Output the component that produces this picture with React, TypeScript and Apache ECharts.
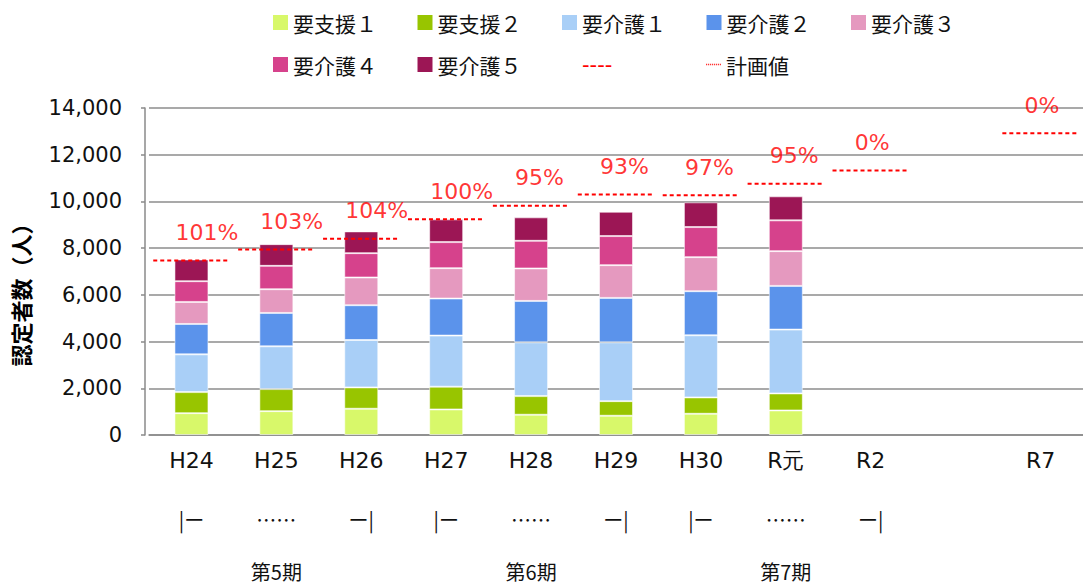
import React, { useEffect, useRef } from 'react';
import * as echarts from 'echarts';

// ---- data ----
const categories = ['H24', 'H25', 'H26', 'H27', 'H28', 'H29', 'H30', 'R元', 'R2', '', 'R7'];
const periodMarks = ['|ー', '……', 'ー|', '|ー', '……', 'ー|', '|ー', '……', 'ー|', '', ''];
const periodNames = ['', '第5期', '', '', '第6期', '', '', '第7期', '', '', ''];

const seriesNames = ['要支援１', '要支援２', '要介護１', '要介護２', '要介護３', '要介護４', '要介護５'];

const shien1 = [935, 1022, 1124, 1094, 867, 824, 909, 1051, null, null, null];
const shien2 = [901, 944, 914, 974, 798, 626, 700, 729, null, null, null];
const kaigo1 = [1617, 1831, 2029, 2188, 2303, 2518, 2660, 2733, null, null, null];
const kaigo2 = [1301, 1429, 1489, 1587, 1772, 1901, 1887, 1871, null, null, null];
const kaigo3 = [943, 1016, 1188, 1300, 1390, 1403, 1459, 1488, null, null, null];
const kaigo4 = [888, 1000, 1042, 1115, 1184, 1244, 1287, 1317, null, null, null];
const kaigo5 = [931, 930, 931, 974, 1004, 1042, 1059, 1030, null, null, null];

const planValues = [7470, 7940, 8400, 9240, 9810, 10300, 10260, 10760, 11320, null, 12920];
const ratioLabels = ['101%', '103%', '104%', '100%', '95%', '93%', '97%', '95%', '0%', '', '0%'];

const yMin = 0;
const yMax = 14000;
const yInterval = 2000;

const colors = ['#d8f86a', '#98c500', '#a9cff7', '#5b93eb', '#e599bf', '#d6428c', '#9c1655'];

const barValues = [shien1, shien2, kaigo1, kaigo2, kaigo3, kaigo4, kaigo5];

const dottedIcon =
  'path://' +
  Array.from({ length: 8 }, (_, i) => `M${i * 2},0h1.2v1.5h-1.2z`).join('');

export default function App() {
  const ref = useRef<HTMLDivElement>(null);

  useEffect(() => {
    if (!ref.current) return;
    const chart = echarts.init(ref.current, null, { renderer: 'svg' });

    const legendText = {
      fontSize: 21,
      fontFamily: '"Noto Sans CJK JP", sans-serif',
      color: '#111',
    };
    const legendCommon = {
      padding: 0,
      itemWidth: 15,
      itemHeight: 15,
      itemGap: 40.5,
      textStyle: legendText,
      selectedMode: false,
      itemStyle: { borderWidth: 0 },
    };

    const barSeries = seriesNames.map((name, k) => ({
      name,
      type: 'bar',
      stack: 'total',
      barWidth: 34,
      data: barValues[k].map((v) => (v == null ? '-' : v)),
      itemStyle: {
        color: colors[k],
        borderColor: 'rgba(255,255,255,0.55)',
        borderWidth: 1,
      },
    }));

    const option: any = {
      animation: false,
      grid: { left: 149, right: -5, top: 108, bottom: 150, containLabel: false },
      legend: [
        {
          ...legendCommon,
          data: seriesNames.slice(0, 5),
          left: 273,
          top: 12,
          icon: 'rect',
        },
        {
          ...legendCommon,
          data: [
            seriesNames[5],
            seriesNames[6],
            { name: '----', icon: 'none', textStyle: { color: '#ff0000', fontFamily: 'DejaVu Sans', fontSize: 21 } },
          ],
          left: 273,
          top: 54,
          icon: 'rect',
        },
        {
          ...legendCommon,
          data: [{ name: '計画値', icon: dottedIcon, itemStyle: { color: '#ff0000', borderWidth: 0 } }],
          left: 706,
          top: 54,
        },
      ],
      xAxis: {
        type: 'category',
        data: categories,
        axisLine: { show: true, lineStyle: { color: '#8a8a8a', width: 1.5 } },
        axisTick: { show: false },
        splitLine: { show: false },
        axisLabel: {
          interval: 0,
          margin: 4,
          formatter: (value: string, index: number) =>
            `{a|${value || ' '}}\n{b|${periodMarks[index] || ' '}}\n{c|${periodNames[index] || ' '}}`,
          rich: {
            a: { fontSize: 22, fontFamily: 'DejaVu Sans', color: '#111', lineHeight: 42 },
            b: { fontSize: 20, fontFamily: '"Noto Sans CJK JP", sans-serif', color: '#111', lineHeight: 77 },
            c: { fontSize: 20, fontFamily: '"Noto Sans CJK JP", sans-serif', color: '#111', lineHeight: 27 },
          },
        },
      },
      yAxis: {
        type: 'value',
        min: yMin,
        max: yMax,
        interval: yInterval,
        offset: 4,
        name: '認定者数（人）',
        nameLocation: 'middle',
        nameGap: 114,
        nameTextStyle: {
          fontSize: 22,
          fontWeight: 'bold',
          fontFamily: '"Noto Sans CJK JP", sans-serif',
          color: '#000',
          padding: [0, 36, 0, 0],
        },
        axisLine: { show: true, lineStyle: { color: '#8a8a8a', width: 1.5 } },
        axisTick: { show: true, length: 4, lineStyle: { color: '#8a8a8a', width: 1.5 } },
        splitLine: { show: true, lineStyle: { color: '#8c8c8c', width: 1.5 } },
        axisLabel: {
          margin: 23,
          fontSize: 21,
          fontFamily: 'DejaVu Sans',
          color: '#111',
          formatter: (v: number) => v.toLocaleString('en-US'),
        },
      },
      series: [
        ...barSeries,
        {
          name: '----',
          type: 'custom',
          z: 5,
          itemStyle: { color: '#ff0000' },
          encode: { x: 0, y: 1 },
          data: planValues.map((v, i) => [i, v == null ? '-' : v]),
          renderItem: (params: any, api: any) => {
            const v = api.value(1);
            if (!isFinite(v)) return null;
            const c = api.coord([api.value(0), v]);
            const w = api.size([1, 0])[0] * 0.9;
            return {
              type: 'line',
              shape: { x1: c[0] - w / 2, y1: c[1], x2: c[0] + w / 2, y2: c[1] },
              style: { stroke: '#ff0000', lineWidth: 2, lineDash: [4, 3] },
            };
          },
        },
        {
          name: '計画値',
          type: 'scatter',
          symbolSize: 0,
          z: 6,
          silent: true,
          itemStyle: { color: '#ff0000' },
          data: planValues.map((v) => (v == null ? '-' : v)),
          label: {
            show: true,
            position: 'inside',
            align: 'left',
            verticalAlign: 'middle',
            offset: [-16, -28],
            color: '#ff0000',
            fontSize: 22,
            fontFamily: 'DejaVu Sans',
            formatter: (p: any) => ratioLabels[p.dataIndex],
          },
        },
      ],
    };

    chart.setOption(option);
    return () => chart.dispose();
  }, []);

  return (
    <div
      ref={ref}
      style={{ position: 'fixed', left: 0, top: 0, width: 1083, height: 585, background: '#fff' }}
    />
  );
}
